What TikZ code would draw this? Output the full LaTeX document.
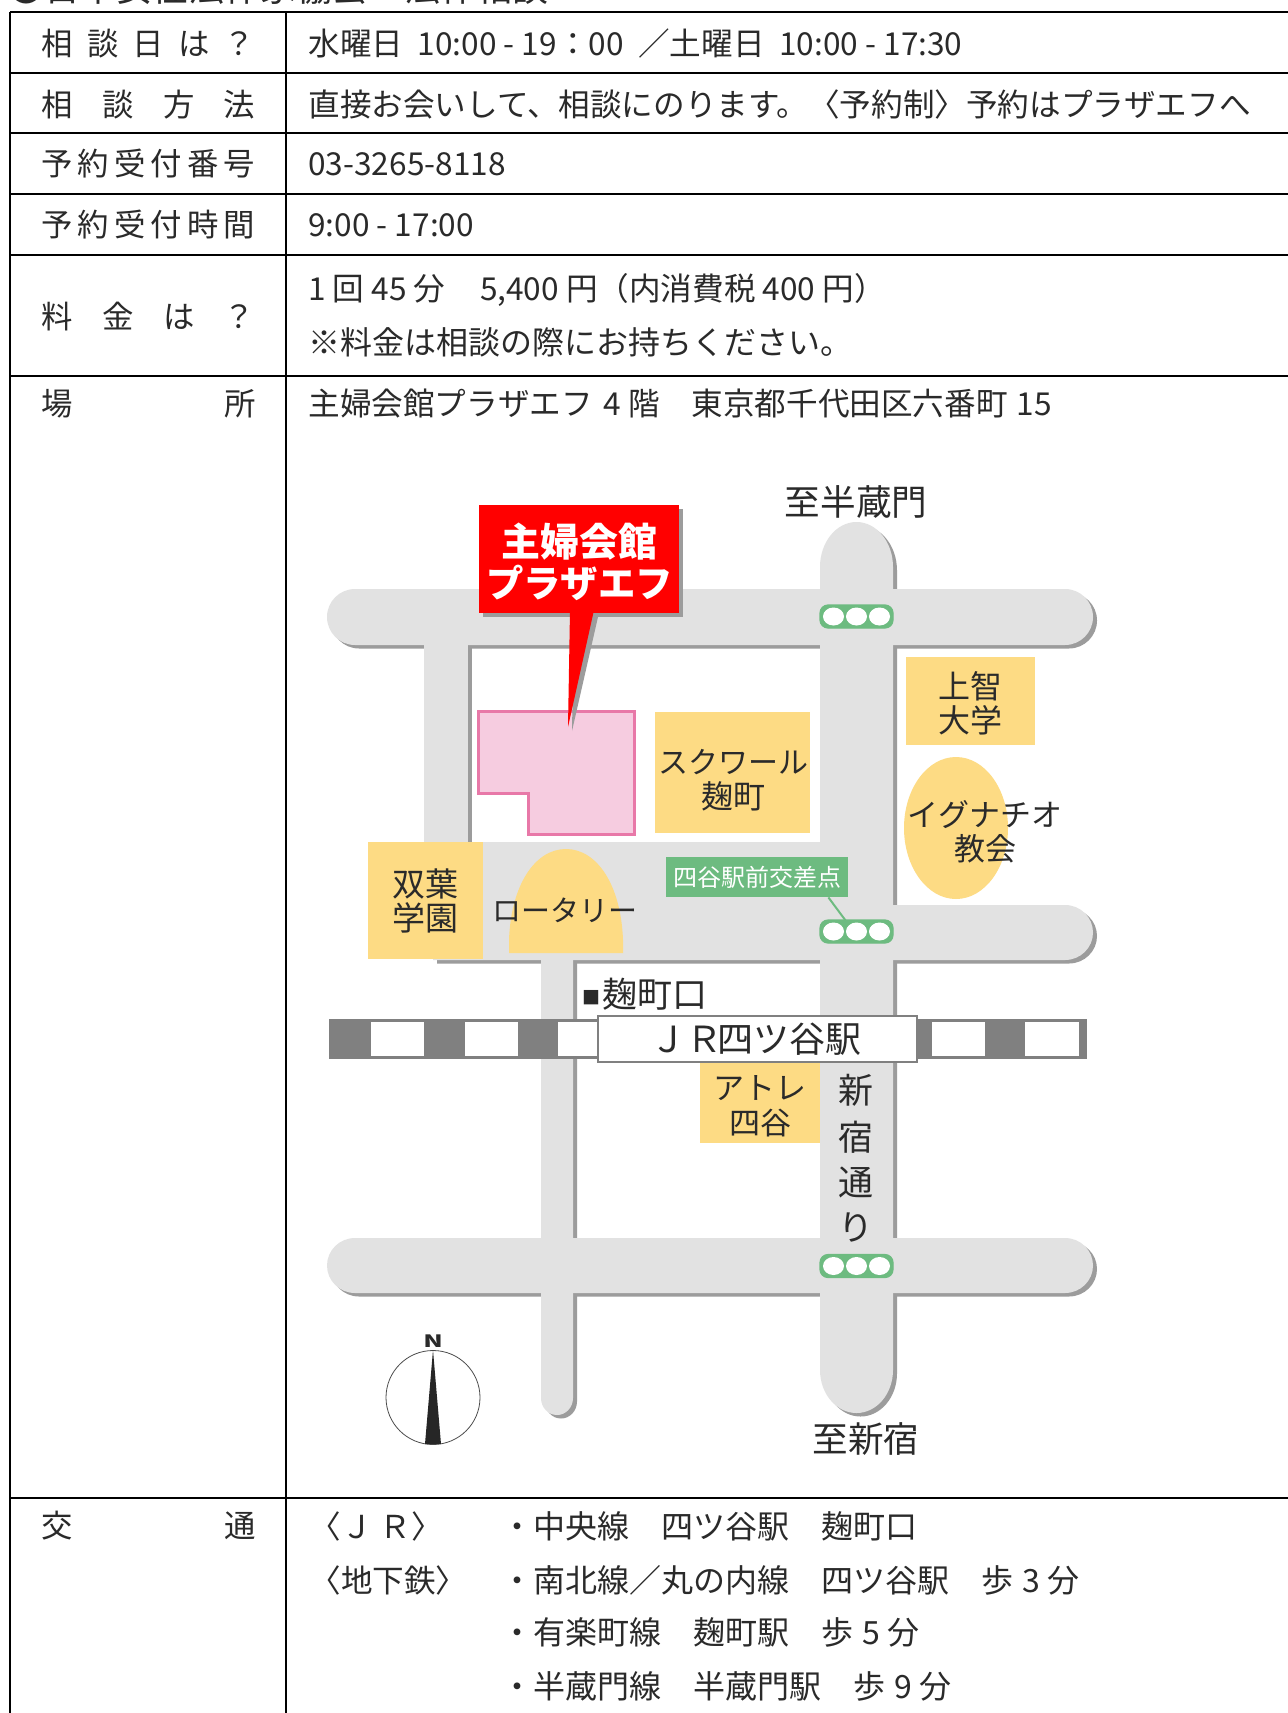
\documentclass[tikz,border=0pt]{standalone}
\usepackage{fontspec}
\setmainfont{Noto Sans CJK JP}
\usetikzlibrary{shapes.geometric}
\definecolor{roadc}{HTML}{E2E2E2}
\definecolor{shadowc}{HTML}{9C9C9C}
\definecolor{yel}{HTML}{FDDB84}
\definecolor{railc}{HTML}{808080}
\definecolor{greenc}{HTML}{6DBB80}
\definecolor{pinkf}{HTML}{F6CCE0}
\definecolor{pinkd}{HTML}{E878A8}
\definecolor{inkc}{HTML}{2A2A2A}
\newcommand{\fs}[1]{\fontsize{#1}{#1}\selectfont}
\newcommand{\spread}[1]{\makebox[107pt][s]{#1}}
\newcommand{\gap}{\hspace{3.8pt}}
\tikzset{
  tline/.style={black,line width=1.1pt},
  vline/.style={black,line width=0.7pt},
  txt/.style={anchor=west,inner sep=0pt,font=\fs{15.8},text=inkc},
  lab/.style={anchor=west,inner sep=0pt,font=\fs{15.7},text=inkc},
  route/.style={anchor=west,inner sep=0pt,font=\fs{16},text=inkc},
  mapt/.style={inner sep=0pt,align=center,text=inkc,font=\fs{14.5}},
  road/.style={fill=roadc,draw=none},
  shad/.style={fill=shadowc,draw=none},
  bldg/.style={fill=yel,draw=none},
  signalbox/.style={fill=greenc,draw=greenc,line width=0.6pt,rounded corners=4pt,minimum width=36.5pt,minimum height=11.5pt,inner sep=0pt},
  lamp/.style={ellipse,fill=white,draw=none,minimum width=10.5pt,minimum height=9pt,inner sep=0pt},
}
\newcommand{\roads}[1]{%
  % top road
  \path[#1] (355,589) -- (1065,589) arc[start angle=-90,end angle=0,x radius=28,y radius=28] arc[start angle=0,end angle=90,x radius=28,y radius=28] -- (355,645) arc[start angle=90,end angle=180,x radius=28,y radius=28] arc[start angle=180,end angle=270,x radius=28,y radius=28] -- cycle;
  % bottom road
  \path[#1] (355,1238) -- (1065,1238) arc[start angle=-90,end angle=0,x radius=28,y radius=27.5] arc[start angle=0,end angle=90,x radius=28,y radius=27.5] -- (355,1293) arc[start angle=90,end angle=180,x radius=28,y radius=27.5] arc[start angle=180,end angle=270,x radius=28,y radius=27.5] -- cycle;
  % upper-left street
  \path[#1] (424,620) rectangle (468,880);
  % plaza and middle road
  \path[#1] (433,842) -- (820,842) -- (820,905) -- (1065,905) arc[start angle=-90,end angle=0,x radius=28,y radius=27.5] arc[start angle=0,end angle=90,x radius=28,y radius=27.5] -- (433,960) -- cycle;
  % lower-left street
  \path[#1] (541,940) -- (541,1398) arc[start angle=180,end angle=0,x radius=16,y radius=17] -- (573,940) -- cycle;
  % Shinjuku-dori
  \path[#1] (820,1370) arc[start angle=180,end angle=0,x radius=36.5,y radius=43] -- (893,567) arc[start angle=0,end angle=-180,x radius=36.5,y radius=45] -- cycle;
}
\newcommand{\signal}[2]{%
  \node[signalbox] (#1) at (856.5,#2) {};
  \node[lamp] (#1a) at (833.5,#2) {};
  \node[lamp] (#1b) at (856.5,#2) {};
  \node[lamp] (#1c) at (879.5,#2) {};
}
\begin{document}
\begin{tikzpicture}[x=0.5pt,y=-0.5pt]
\useasboundingbox (0,0) rectangle (1288,1713);
\fill[white] (0,0) rectangle (1288,1713);
% heading cut by the top edge
\begin{scope}
\clip (0,0) rectangle (1288,10);
\node[txt,anchor=base west,font=\fs{18}] (head) at (8,2) {●日本女性法律家協会・法律相談};
\end{scope}
% table rules
\foreach \yy in {12,73,133,194,255,376,1498} \draw[tline] (10,\yy) -- (1288,\yy);
\draw[vline] (10,12) -- (10,1713);
\draw[vline] (286,12) -- (286,1713);
% left labels
\node[lab] (l1) at (41,44) {\spread{相\hfil 談\hfil 日\hfil は\hfil ？}};
\node[lab] (l2) at (41,105) {\spread{相\hfil 談\hfil 方\hfil 法}};
\node[lab] (l3) at (41,164) {\spread{予\hfil 約\hfil 受\hfil 付\hfil 番\hfil 号}};
\node[lab] (l4) at (41,225) {\spread{予\hfil 約\hfil 受\hfil 付\hfil 時\hfil 間}};
\node[lab] (l5) at (41,317) {\spread{料\hfil 金\hfil は\hfil ？}};
\node[lab] (l6) at (41,404) {\spread{場\hfil 所}};
\node[lab] (l7) at (41,1526) {\spread{交\hfil 通}};
% right texts
\node[txt] (t1) at (308,43) {水曜日 \gap 10:00 - 19：00 \gap ／土曜日 \gap 10:00 - 17:30};
\node[txt] (t2) at (308,104) {直接お会いして、相談にのります。〈予約制〉予約はプラザエフへ};
\node[txt] (t3) at (308,164) {03-3265-8118};
\node[txt] (t4) at (308,225) {9:00 - 17:00};
\node[txt] (t5a) at (308,290) {1 回 45 分　\hspace{1.5pt}5,400 円（内消費税 400 円）};
\node[route] (t5b) at (308,342) {※料金は相談の際にお持ちください。};
\node[txt] (t6) at (308,404) {主婦会館プラザエフ\hspace{2pt} 4 階　東京都千代田区六番町 \hspace{1pt}15};
\node[txt] (t7a) at (309,1526) {〈Ｊ Ｒ〉};
\node[txt] (t7b) at (309,1580) {〈地下鉄〉};
\node[route] (r1) at (501,1526) {・中央線　四ツ谷駅　麹町口};
\node[route] (r2) at (501,1580) {・南北線／丸の内線　四ツ谷駅　歩 \hspace{1pt}3 分};
\node[route] (r3) at (501,1632) {・有楽町線　麹町駅　歩 \hspace{1pt}5 分};
\node[route] (r4) at (501,1686) {・半蔵門線　半蔵門駅　歩 \hspace{1pt}9 分};
% map roads: shadow first, then surface
\begin{scope}[shift={(4,3.5)}]\roads{shad}\end{scope}
\roads{road}
% pink building
\path[fill=pinkf,draw=pinkd,line width=1.5pt] (478,711) -- (634,711) -- (634,834) -- (528,834) -- (528,793) -- (478,793) -- cycle;
% yellow blocks
\path[bldg] (655,712) rectangle (810,833);
\path[bldg] (906,657) rectangle (1035,745);
\path[bldg] (956,828) ellipse[x radius=52,y radius=71];
\path[bldg] (368,842) rectangle (483,959);
\path[bldg] (509,953) -- (509,940) .. controls (511,885) and (535,849) .. (566,849) .. controls (597,849) and (621,885) .. (623,940) -- (623,953) -- cycle;
\path[bldg] (700,1063) rectangle (820,1143);
% rail
\fill[railc] (329,1019) rectangle (1087,1059);
\foreach \xa/\xb in {371/424,465/518,558/598,932/985,1025/1079} \fill[white] (\xa,1022) rectangle (\xb,1056);
% station
\node[draw=railc,fill=white,line width=1pt,minimum width=159.5pt,minimum height=23pt,inner sep=0pt,font=\fs{18},text=inkc] (jr) at (757.5,1039) {\raisebox{-1.5pt}{\hspace{-2pt}Ｊ\hspace{0pt}Ｒ\hspace{-2.5pt}四ツ谷駅}};
% map labels
\node[mapt] (sq) at (733,780) {\fs{15}スクワール\\[3pt]\fs{16}麹町};
\node[mapt,font=\fs{16}] (jochi) at (970,703) {上智\\[1pt]大学};
\node[mapt,font=\fs{15.5}] (ign) at (985,832) {イグナチオ\\[1.5pt]教会};
\node[mapt,font=\fs{16.5}] (futaba) at (425.5,901) {双葉\\[0.5pt]学園};
\node[mapt,font=\fs{14.5}] (rot) at (565,910) {ロータリー};
\node[mapt,font=\fs{15.5}] (atre) at (760,1106) {アトレ\\[2pt]四谷};
\node[mapt,anchor=west,font=\fs{17.5}] (koji) at (582,994) {{\fs{9}\raisebox{1.5pt}{■}}\hspace{1pt}麹町口};
\node[mapt,font=\fs{17.8}] (hanzo) at (856,502) {至半蔵門};
\node[mapt,font=\fs{17.8}] (shinj) at (866,1439) {至新宿};
\node[mapt,font=\fs{17.5}] (s1) at (856,1090) {新};
\node[mapt,font=\fs{17.5}] (s2) at (856,1137) {宿};
\node[mapt,font=\fs{17.5}] (s3) at (856,1182) {通};
\node[mapt,font=\fs{17.5}] (s4) at (856,1227) {り};
% signals
\signal{sa}{616.5}
\signal{sb}{931.5}
\signal{sc}{1266}
% crossing label and its connector
\node[fill=greenc,text=white,minimum width=91pt,minimum height=20pt,inner sep=0pt,font=\fs{12}] (cross) at (757,877) {四谷駅前交差点};
\draw[greenc,line width=1pt] (cross.south east) ++(-20,0) -- (sbb.north west);
% callout
\path[fill=shadowc] (574,617) -- (598,617) -- (572,731) -- cycle;
\fill[shadowc] (483,509) rectangle (683,617);
\path[fill=red] (570,610) -- (594,610) -- (568,727) -- cycle;
\node[fill=red,minimum width=100pt,minimum height=54pt,inner sep=0pt] (plaza) at (579,559) {};
\node[inner sep=0pt,text=white,align=center] (plazat) at (579.5,562) {\fs{19.5}\bfseries 主婦会館\\[1.5pt]\fs{18.7}\bfseries プラザエフ};
% compass
\draw[black!70,line width=0.4pt] (433,1397.5) circle[radius=47];
\path[fill=black!85] (433,1350) -- (441,1444) -- (425,1444) -- cycle;
\node[inner sep=0pt,font=\fs{8.5}\bfseries,text=inkc] (north) at (433,1341) {\scalebox{1.5}[1]{N}};
\end{tikzpicture}
\end{document}
